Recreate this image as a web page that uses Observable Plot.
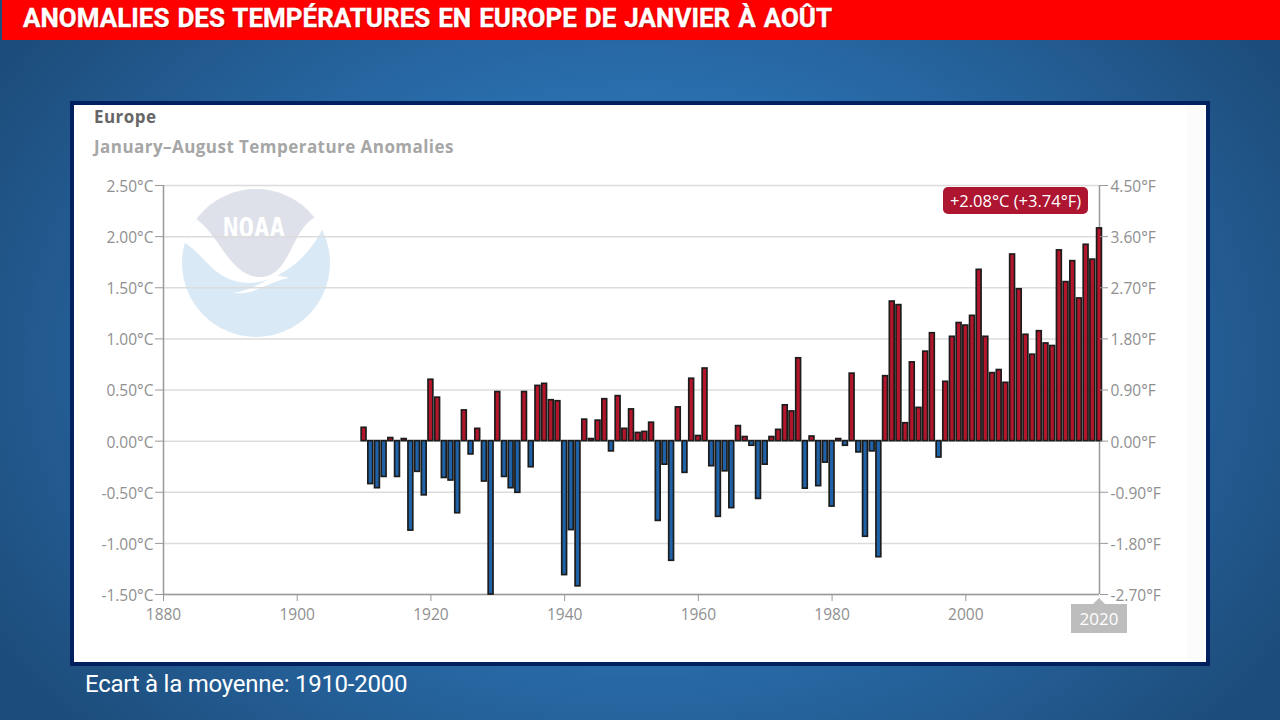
<!DOCTYPE html>
<html lang="fr">
<head>
<meta charset="utf-8">
<title>Anomalies des températures en Europe</title>
<script src="https://cdn.jsdelivr.net/npm/d3@7"></script>
<script src="https://cdn.jsdelivr.net/npm/@observablehq/plot@0.6"></script>
<style>
  html, body { margin: 0; padding: 0; }
  body { width: 1280px; height: 720px; overflow: hidden; position: relative;
    background: radial-gradient(ellipse 760px 560px at 640px 360px, #2b73b6 0%, #2a70b0 45%, #22598e 80%, #1c4c79 100%); }
  .abs { position: absolute; }
  #banner { left: 2px; top: 0; width: 1278px; height: 40px; background: #ff0000; color: #fff;
    font: 700 26px/37px Roboto, sans-serif; letter-spacing: 0; word-spacing: 1.5px; white-space: nowrap;
    -webkit-text-stroke: 0.35px #fff; text-shadow: 1px 1px 1px rgba(90,0,0,.55); }
  #banner span { margin-left: 21px; }
  #panel { left: 70px; top: 101px; width: 1132px; height: 557px; background: #fff; border: 4px solid #002060; }
  #strip { left: 1187px; top: 105px; width: 17px; height: 557px; background: #fcfcfc; }
  #t1 { left: 94px; top: 107px; color: #666; font: 700 17px/20px "Open Sans", sans-serif; letter-spacing: 0.45px; }
  #t2 { left: 94px; top: 137px; color: #a6a6a6; font: 700 17px/20px "Open Sans", sans-serif; letter-spacing: 0.45px; white-space: nowrap; }
  #logo { left: 170px; top: 180px; }
  #chart { left: 72px; top: 170px; }
  #tip { left: 943px; top: 187px; width: 145px; height: 27px; background: #ad1530; border-radius: 5px;
    color: #fff; font: 400 16.5px/27px "Open Sans", sans-serif; text-align: center; white-space: nowrap; }
  #tag { left: 1071px; top: 604px; width: 56px; height: 29px; background: #bdbdbd;
    color: #fff; font: 400 17px/29px "Open Sans", sans-serif; text-align: center; }
  #tag::before { content: ""; position: absolute; left: 22px; top: -6px; width: 0; height: 0;
    border-left: 6px solid transparent; border-right: 6px solid transparent; border-bottom: 6px solid #bdbdbd; }
  #foot { left: 85px; top: 670px; color: #fff; font: 400 24px/28px Roboto, sans-serif; letter-spacing: -0.25px; white-space: nowrap; }
</style>
</head>
<body>
<div id="banner" class="abs"><span>ANOMALIES DES TEMPÉRATURES EN EUROPE DE JANVIER À AOÛT</span></div>
<div id="panel" class="abs"></div>
<div id="strip" class="abs"></div>
<div id="t1" class="abs">Europe</div>
<div id="t2" class="abs">January–August Temperature Anomalies</div>
<svg id="logo" class="abs" width="170" height="170" viewBox="170 180 170 170">
  <defs><clipPath id="disc"><circle cx="256" cy="263" r="74"/></clipPath></defs>
  <g clip-path="url(#disc)">
    <rect x="170" y="180" width="170" height="170" fill="#d9e9f6"/>
    <path d="M185 243C205 255 215 283 250 283C265 283 300 272 322 230L345 175L170 175Z" fill="#fff"/>
    <path d="M195 218C220 235 230 277 260 277C290 277 290 232 315 217L335 170L175 170Z" fill="#dee1ea"/>
    <path d="M233 293C250 290 262 283 275 275L290 278C270 280 255 296 233 293Z" fill="#fff"/>
  </g>
  <text x="223" y="237" textLength="62" lengthAdjust="spacingAndGlyphs" fill="#fff" style="font:700 26px 'DejaVu Sans Mono', monospace">NOAA</text>
</svg>
<div id="chart" class="abs"></div>
<div id="tip" class="abs">+2.08°C (+3.74°F)</div>
<div id="tag" class="abs">2020</div>
<div id="foot" class="abs">Ecart à la moyenne: 1910-2000</div>
<script>
const firstYear = 1910;
const anomalies = [
  0.13,-0.42,-0.46,-0.35,0.03,-0.35,0.02,-0.875,-0.30,-0.53,
  0.60,0.425,-0.36,-0.385,-0.705,0.30,-0.13,0.12,-0.395,-1.50,
  0.48,-0.35,-0.46,-0.505,0.48,-0.255,0.54,0.56,0.40,0.39,
  -1.31,-0.87,-1.42,0.21,0.02,0.20,0.41,-0.10,0.44,0.12,
  0.31,0.08,0.09,0.18,-0.78,-0.23,-1.17,0.33,-0.31,0.61,
  0.05,0.71,-0.245,-0.74,-0.295,-0.655,0.147,0.04,-0.045,-0.565,
  -0.23,0.04,0.11,0.35,0.29,0.81,-0.465,0.045,-0.44,-0.21,
  -0.64,0.02,-0.045,0.66,-0.11,-0.935,-0.10,-1.135,0.635,1.365,
  1.33,0.175,0.77,0.325,0.875,1.055,-0.16,0.58,1.02,1.155,
  1.13,1.225,1.675,1.02,0.665,0.695,0.57,1.825,1.485,1.04,
  0.845,1.075,0.955,0.93,1.865,1.555,1.76,1.395,1.92,1.775,2.08
];
const yearTicks = [1880,1900,1920,1940,1960,1980,2000];
const celsiusTicks = [-1.5,-1,-0.5,0,0.5,1,1.5,2,2.5];
const fahrenheitLabels = ["-2.70°F","-1.80°F","-0.90°F","0.00°F","0.90°F","1.80°F","2.70°F","3.60°F","4.50°F"];
const rows = anomalies.map((v, i) => ({year: firstYear + i, value: v}));
const barHalf = 0.36;
const axisColor = "#999";
const textColor = "#8f8f8f";

const plot = Plot.plot({
  width: 1136, height: 480,
  marginLeft: 91, marginRight: 109, marginTop: 15, marginBottom: 56,
  style: {background: "transparent", fontFamily: "'Open Sans', sans-serif", fontSize: "15.5px", color: textColor},
  x: {domain: [1880, 2020], label: null},
  y: {domain: [-1.5, 2.5], label: null},
  marks: [
    Plot.gridY(celsiusTicks, {stroke: "#dcdcdc", strokeOpacity: 1, strokeWidth: 1.5}),
    Plot.ruleX([1880, 2020], {stroke: axisColor, strokeWidth: 1.5}),
    Plot.ruleY([-1.5], {stroke: axisColor, strokeWidth: 1.5}),
    Plot.rectY(rows, {
      x1: d => d.year - barHalf, x2: d => d.year + barHalf,
      y1: 0, y2: "value",
      fill: d => d.value >= 0 ? "#b5152b" : "#1f62a8",
      stroke: "#1c1c1c", strokeWidth: 1.7
    }),
    Plot.axisY(celsiusTicks, {anchor: "left", tickSize: 8, tickPadding: 2, stroke: axisColor, fill: "none", label: null}),
    Plot.axisY(celsiusTicks, {anchor: "left", tickSize: 8, tickPadding: 2, stroke: "none", fill: textColor, dy: 1.5,
      tickFormat: d => d.toFixed(2) + "°C", label: null}),
    Plot.axisY(celsiusTicks, {anchor: "right", tickSize: 8, tickPadding: 3, stroke: axisColor, fill: "none", label: null}),
    Plot.axisY(celsiusTicks, {anchor: "right", tickSize: 8, tickPadding: 3, stroke: "none", fill: textColor, dy: 1.5,
      tickFormat: d => fahrenheitLabels[celsiusTicks.indexOf(d)], label: null}),
    Plot.axisX(yearTicks, {anchor: "bottom", tickSize: 7, tickPadding: 7, stroke: axisColor, fill: textColor,
      tickFormat: d => String(d), label: null})
  ]
});
document.getElementById("chart").appendChild(plot);
</script>
</body>
</html>
